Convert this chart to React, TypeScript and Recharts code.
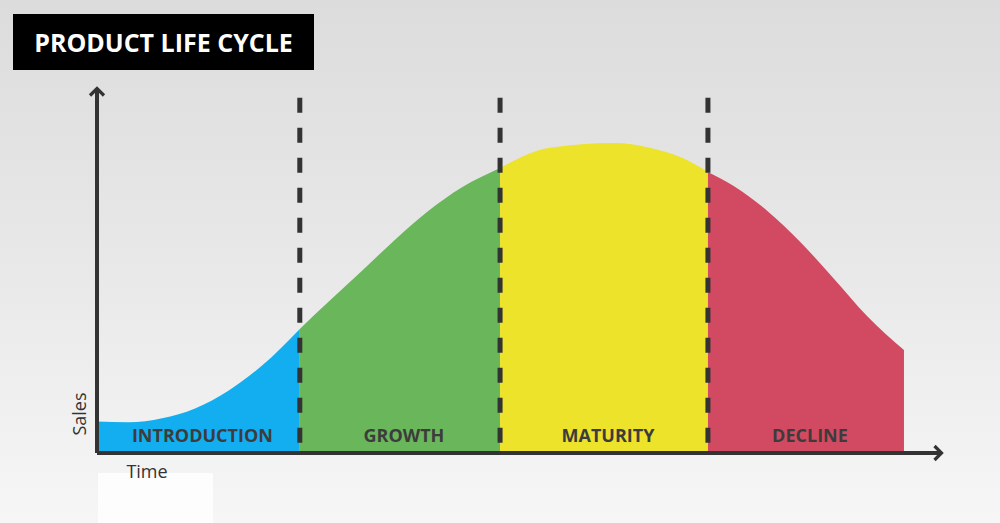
import React from 'react';
import { AreaChart, Area, XAxis, YAxis, ReferenceLine, ReferenceArea } from 'recharts';

// Time (0-100 scale) and sales (0-100 scale)
const TIME = [0, 3.7, 7.7, 11.6, 15.5, 19.5, 24.0, 27.3, 31.4, 35.3, 39.2, 43.2, 47.7, 53.6, 61.1, 65.4, 69.3, 72.3, 75.3, 79.3, 83.2, 87.1, 91.1, 95.5];
const SALES = [8.6, 8.4, 9.5, 12.2, 17.0, 23.9, 34.0, 41.2, 50.0, 58.5, 66.3, 72.8, 78.1, 83.6, 84.9, 83.6, 80.8, 77.0, 73.2, 66.4, 57.9, 48.0, 37.6, 28.2];

const STAGES = ['INTRODUCTION', 'GROWTH', 'MATURITY', 'DECLINE'];
const STAGE_BOUNDS = [0, 24.0, 47.7, 72.3, 95.5];
const STAGE_COLORS = ['#13aef0', '#6ab65b', '#ece32a', '#d24a61'];
const DIVIDERS = [24.0, 47.7, 72.3];
const DIVIDER_TOP = 97.3;

const TITLE = 'PRODUCT LIFE CYCLE';
const X_LABEL = 'Time';
const Y_LABEL = 'Sales';

const data = TIME.map((t, idx) => {
  const row: Record<string, number | null> = { time: t };
  STAGES.forEach((_, i) => {
    row['s' + i] = t >= STAGE_BOUNDS[i] && t <= STAGE_BOUNDS[i + 1] ? SALES[idx] : null;
  });
  return row;
});

const FONT = "'Open Sans', 'DejaVu Sans', sans-serif";
const AXIS = '#333333';

export default function App() {
  return (
    <div
      style={{
        position: 'absolute',
        left: 0,
        top: 0,
        width: 1000,
        height: 523,
        overflow: 'hidden',
        background: 'linear-gradient(180deg, #dcdcdc 0%, #e8e8e8 50%, #f6f6f6 100%)',
        fontFamily: FONT,
      }}
    >
      <div style={{ position: 'absolute', left: 98, top: 473, width: 115, height: 50, background: '#fdfdfd' }} />
      <div
        style={{
          position: 'absolute',
          left: 13,
          top: 14,
          width: 301,
          height: 56,
          background: '#000',
          color: '#fff',
          fontWeight: 700,
          fontSize: 25,
          lineHeight: '56px',
          textAlign: 'center',
          fontFamily: FONT,
        }}
      >
        {TITLE}
      </div>
      <div style={{ position: 'absolute', left: 0, top: 0 }}>
        <AreaChart width={1000} height={523} data={data} margin={{ top: 88, right: 58, bottom: 50, left: 77 }}>
          <defs>
            <marker
              id="arrowHead"
              viewBox="0 0 16 18"
              refX="12.5"
              refY="9"
              markerWidth="16"
              markerHeight="18"
              markerUnits="userSpaceOnUse"
              orient="auto-start-reverse"
            >
              <path d="M5,2 L12,9 L5,16" fill="none" stroke={AXIS} strokeWidth="3.2" />
            </marker>
          </defs>
          <XAxis
            type="number"
            dataKey="time"
            domain={[0, 100]}
            tick={false}
            tickLine={false}
            height={20}
            axisLine={{ stroke: AXIS, strokeWidth: 4, markerEnd: 'url(#arrowHead)' } as any}
          />
          <YAxis
            type="number"
            domain={[0, 100]}
            tick={false}
            tickLine={false}
            width={20}
            axisLine={{ stroke: AXIS, strokeWidth: 4, markerStart: 'url(#arrowHead)' } as any}
          />
          {STAGES.map((s, i) => (
            <Area
              key={s}
              type="monotone"
              dataKey={'s' + i}
              fill={STAGE_COLORS[i]}
              fillOpacity={1}
              stroke="none"
              dot={false}
              activeDot={false}
              isAnimationActive={false}
            />
          ))}
          {DIVIDERS.map((d) => (
            <ReferenceLine
              key={d}
              segment={[{ x: d, y: DIVIDER_TOP }, { x: d, y: 0 }]}
              stroke={AXIS}
              strokeWidth={5}
              strokeDasharray="15 15"
            />
          ))}
          {STAGES.map((s, i) => (
            <ReferenceArea
              key={'l' + s}
              x1={STAGE_BOUNDS[i]}
              x2={STAGE_BOUNDS[i + 1]}
              y1={0}
              y2={9.4}
              fill="none"
              stroke="none"
              label={{ value: s, position: 'center', fill: '#3c3c3c', fontSize: 18, fontWeight: 700, fontFamily: FONT, dx: 4 } as any}
            />
          ))}
          <text x={147} y={478} textAnchor="middle" fontSize={18} fill="#333" fontFamily={FONT}>
            {X_LABEL}
          </text>
          <text x={86} y={414} textAnchor="middle" fontSize={18} fill="#333" fontFamily={FONT} transform="rotate(-90 86 414)">
            {Y_LABEL}
          </text>
        </AreaChart>
      </div>
    </div>
  );
}
